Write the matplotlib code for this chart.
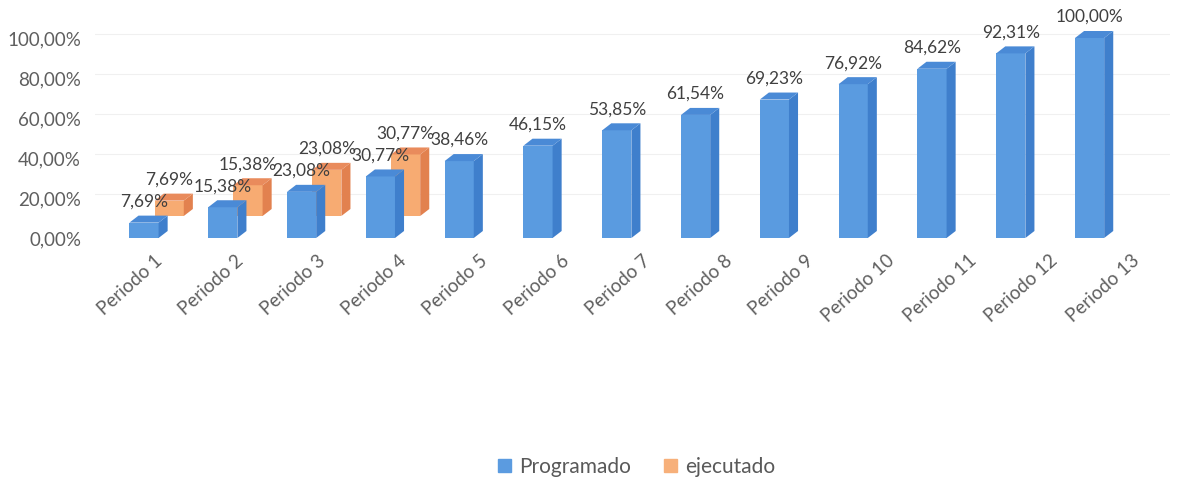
import numpy as np
import matplotlib
matplotlib.use('Agg')
import matplotlib.pyplot as plt
from matplotlib.patches import Polygon, Patch

plt.rcParams['font.family'] = ['Lato', 'DejaVu Sans']

# datos
periodos = ['Periodo %d' % i for i in range(1, 14)]
programado = [7.69, 15.38, 23.08, 30.77, 38.46, 46.15, 53.85,
              61.54, 69.23, 76.92, 84.62, 92.31, 100.00]
ejecutado = [7.69, 15.38, 23.08, 30.77]
y_ticks = [0, 20, 40, 60, 80, 100]

# estilo 3D falso
w = 0.37        # ancho de la cara frontal
ddx = 0.115     # profundidad en x
ddy = 3.5       # profundidad en y (en %)
off_x = 0.32    # desplazamiento de la serie de atras
off_y = 11.0

azul = ('#5a9be0', '#3f7fcc', '#4a8ad6')
naranja = ('#f7ab72', '#e2814f', '#e98b5c')


def fmt(v):
    return ('%.2f%%' % v).replace('.', ',')


def barra3d(ax, x, base, v, cols, z):
    f, s, t = cols
    ax.bar(x, v, width=w, bottom=base, color=f, zorder=z, linewidth=0)
    x0, x1 = x - w / 2, x + w / 2
    top = base + v
    ax.add_patch(Polygon([[x1, base], [x1 + ddx, base + ddy], [x1 + ddx, top + ddy], [x1, top]],
                         closed=True, fc=s, ec='none', zorder=z))
    ax.add_patch(Polygon([[x0, top], [x1, top], [x1 + ddx, top + ddy], [x0 + ddx, top + ddy]],
                         closed=True, fc=t, ec='none', zorder=z))


fig = plt.figure(figsize=(11.86, 4.79), dpi=100)
ax = fig.add_axes([95 / 1186, 229 / 479, 1075 / 1186, 240 / 479])

x = np.arange(len(periodos))

for i, v in enumerate(ejecutado):
    barra3d(ax, x[i] + off_x, off_y, v, naranja, 2)
    ax.text(x[i] + off_x, off_y + v + 10.5, fmt(v), ha='center', va='center',
            fontsize=12.5, color='#404040', zorder=5)

for i, v in enumerate(programado):
    barra3d(ax, x[i], 0, v, azul, 3)
    ax.text(x[i], v + 10.5, fmt(v), ha='center', va='center',
            fontsize=12.5, color='#404040', zorder=5)

for yv in y_ticks[1:]:
    ax.axhline(yv + 2, color='#f0f0f0', lw=0.8, zorder=0)

ax.set_xlim(-49 / 78.8, 1026 / 78.8)
ax.set_ylim(-6, 114)
ax.set_yticks(y_ticks)
ax.set_yticklabels([fmt(v) for v in y_ticks], fontsize=13.5, color='#5f5f5f')

# etiquetas del eje x
ax.set_xticks(x + 0.2 + 0.033 * x)
ax.set_xticklabels(periodos, rotation=42, ha='right', va='center',
                   rotation_mode='anchor', fontsize=13.5, color='#5f5f5f')
ax.tick_params(axis='both', length=0)
ax.tick_params(axis='x', pad=6)
ax.tick_params(axis='y', pad=10)
for sp in ax.spines.values():
    sp.set_visible(False)

handles = [Patch(color='#5b9be0', label='Programado'),
           Patch(color='#f7b07a', label='ejecutado')]
fig.legend(handles=handles, loc='center', bbox_to_anchor=(0.537, 0.025), ncol=2,
           frameon=False, fontsize=15, handlelength=0.6, handleheight=0.6,
           handletextpad=0.4, columnspacing=1.6, labelcolor='#595959')

fig.savefig('out.png', dpi=100)
